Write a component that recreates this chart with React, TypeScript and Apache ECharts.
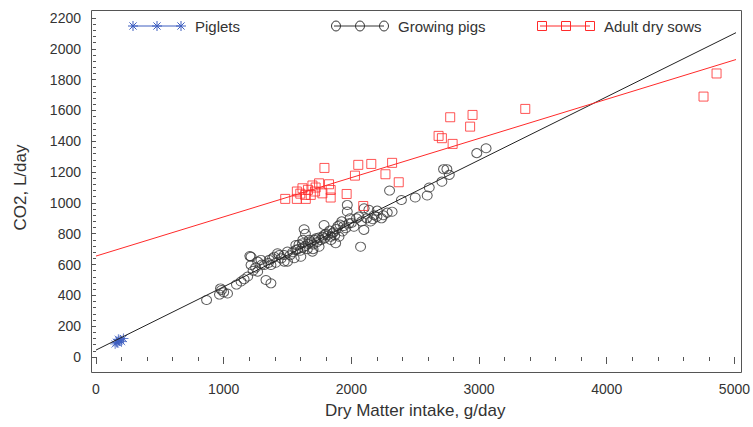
import React, { useEffect, useRef } from "react";
import * as echarts from "echarts";

// ---- data ----
const piglets: number[][] = [
  [150, 85], [160, 95], [170, 92], [180, 105], [190, 110], [200, 100], [215, 120], [175, 115],
];

const growingPigs: number[][] = [
  [866, 370], [967, 405], [983, 435], [1000, 420], [1030, 412], [975, 445],
  [1100, 470], [1136, 490], [1160, 505], [1188, 522], [1214, 597], [1205, 655], [1214, 650],
  [1230, 560], [1250, 580], [1266, 554], [1266, 619], [1292, 630], [1300, 600], [1318, 597],
  [1331, 500], [1370, 478], [1350, 610], [1357, 630], [1370, 597], [1383, 641], [1396, 651],
  [1409, 612], [1422, 673], [1435, 662], [1450, 640], [1474, 662], [1474, 619], [1500, 619],
  [1500, 684], [1520, 660], [1540, 680], [1552, 641], [1565, 695], [1565, 727], [1580, 700],
  [1590, 730], [1600, 690], [1604, 651], [1617, 738], [1620, 710], [1620, 760], [1630, 829],
  [1640, 800], [1640, 720], [1655, 700], [1660, 735], [1669, 760], [1680, 745], [1695, 684],
  [1700, 730], [1700, 700], [1710, 760], [1722, 770], [1730, 745], [1745, 775], [1747, 716],
  [1760, 760], [1775, 780], [1786, 857], [1786, 792], [1790, 770], [1800, 800], [1815, 790],
  [1830, 820], [1840, 780], [1840, 760], [1851, 803], [1860, 810], [1870, 790], [1877, 738],
  [1880, 830], [1895, 850], [1903, 781], [1910, 860], [1925, 880], [1930, 815], [1940, 850],
  [1956, 836], [1968, 987], [1968, 944], [1981, 868], [1990, 900], [2000, 870], [2020, 846],
  [2040, 900], [2059, 911], [2072, 716], [2080, 880], [2098, 825], [2100, 965], [2120, 900],
  [2137, 955], [2150, 880], [2168, 894], [2178, 920], [2200, 910], [2202, 950], [2236, 900],
  [2250, 920], [2281, 937], [2299, 1080], [2319, 943], [2392, 1019], [2500, 1035], [2594, 1048],
  [2610, 1100], [2709, 1138], [2722, 1219], [2748, 1219], [2767, 1182], [2982, 1323], [3055, 1355],
];

const adultDrySows: number[][] = [
  [1482, 1026], [1573, 1074], [1573, 1026], [1600, 1060], [1617, 1095], [1638, 1052],
  [1643, 1026], [1660, 1085], [1682, 1052], [1695, 1113], [1716, 1074], [1720, 1100],
  [1747, 1127], [1773, 1062], [1789, 1227], [1825, 1121], [1838, 1084], [1838, 1035],
  [1963, 1058], [2028, 1177], [2054, 1247], [2093, 980], [2156, 1253], [2267, 1186],
  [2319, 1260], [2371, 1134], [2683, 1435], [2709, 1420], [2774, 1556], [2793, 1383],
  [2930, 1495], [2949, 1571], [3362, 1610], [4758, 1690], [4860, 1840],
];

// fitted lines (end points)
const fitAll: number[][] = [[0, 45], [5030, 2112]];
const fitSows: number[][] = [[0, 655], [5030, 1935]];

const xTitle = "Dry Matter intake, g/day";
const yTitle = "CO2, L/day";
const legendNames = ["Piglets", "Growing pigs", "Adult dry sows"];

const FONT = "'Liberation Sans', Arial, sans-serif";
const STAR_D = "M0,-5L0,5M-5,0L5,0M-3.6,-3.6L3.6,3.6M-3.6,3.6L3.6,-3.6";

export default function App() {
  const ref = useRef<HTMLDivElement>(null);
  useEffect(() => {
    if (!ref.current) return;
    echarts.graphic.registerShape("asterisk", echarts.graphic.extendPath(STAR_D, {}) as any);
    const chart = echarts.init(ref.current, null, { renderer: "svg" });
    const blue = "#3f5fc0";
    const red = "#ff2a2a";
    const dark = "#333333";
    const ly = 26;
    const legendGroup = (x0: number, name: string, kind: string, color: string) => {
      const children: any[] = [
        { type: "line", shape: { x1: x0, y1: ly, x2: x0 + 50, y2: ly }, style: { stroke: color, lineWidth: 1 } },
      ];
      [0, 24, 48].forEach((dx) => {
        const cx = x0 + 2 + dx;
        if (kind === "star") children.push({ type: "asterisk", x: cx, y: ly, style: { stroke: color, fill: "none", lineWidth: 1 } });
        if (kind === "circle") children.push({ type: "ellipse", shape: { cx, cy: ly, rx: 4.5, ry: 5 }, style: { stroke: color, fill: "none", lineWidth: 1 } });
        if (kind === "rect") children.push({ type: "rect", shape: { x: cx - 4.5, y: ly - 4.5, width: 9, height: 9 }, style: { stroke: color, fill: "none", lineWidth: 1 } });
      });
      children.push({ type: "text", x: x0 + 64, y: ly, style: { text: name, fontSize: 15, fontFamily: FONT, fill: dark, verticalAlign: "middle" } });
      return { type: "group", children };
    };
    const axisColor = "#555";
    const plain = (v: number) => String(v);
    const minorX = {
      type: "value", min: 0, max: 5000, interval: 200, offset: 15, position: "bottom",
      axisLine: { show: false }, axisLabel: { show: false }, splitLine: { show: false },
      axisTick: { show: true, length: 4, lineStyle: { color: axisColor } },
    };
    const minorY = {
      type: "value", min: 0, max: 2200, interval: 40, offset: 5, position: "left",
      axisLine: { show: false }, axisLabel: { show: false }, splitLine: { show: false },
      axisTick: { show: true, length: 3, lineStyle: { color: axisColor } },
    };
    chart.setOption({
      animation: false,
      backgroundColor: "#ffffff",
      grid: { left: 96, right: 16, top: 18, bottom: 70 },
      xAxis: [
        {
          type: "value", min: 0, max: 5000, interval: 1000, offset: 15, position: "bottom",
          axisLine: { show: false },
          axisTick: { show: true, length: 7, lineStyle: { color: axisColor } },
          splitLine: { show: false },
          axisLabel: { fontSize: 14, color: dark, fontFamily: FONT, margin: 10, formatter: plain },
          name: xTitle, nameLocation: "middle", nameGap: 30,
          nameTextStyle: { fontSize: 17, color: dark, fontFamily: FONT },
        },
        minorX,
      ],
      yAxis: [
        {
          type: "value", min: 0, max: 2200, interval: 200, offset: 5, position: "left",
          axisLine: { show: false },
          axisTick: { show: true, length: 5, lineStyle: { color: axisColor } },
          splitLine: { show: false },
          axisLabel: { fontSize: 14, color: dark, fontFamily: FONT, margin: 10, formatter: plain },
          name: yTitle, nameLocation: "middle", nameGap: 62, nameRotate: 90,
          nameTextStyle: { fontSize: 17, color: dark, fontFamily: FONT },
        },
        minorY,
      ],
      graphic: [
        { type: "rect", shape: { x: 91.5, y: 10.5, width: 650, height: 362 }, style: { fill: "none", stroke: axisColor, lineWidth: 1 }, z: 10 },
        legendGroup(131, legendNames[0], "star", blue),
        legendGroup(334, legendNames[1], "circle", dark),
        legendGroup(540, legendNames[2], "rect", red),
      ],
      series: [
        { type: "line", data: fitAll, symbol: "none", clip: false, lineStyle: { color: "#222", width: 1 }, silent: true },
        { type: "line", data: fitSows, symbol: "none", clip: false, lineStyle: { color: red, width: 1 }, silent: true },
        {
          name: legendNames[0], type: "scatter", data: piglets, clip: false,
          symbol: "path://" + STAR_D, symbolSize: 10,
          itemStyle: { color: "none", borderColor: blue, borderWidth: 1 },
        },
        {
          name: legendNames[1], type: "scatter", data: growingPigs, clip: false,
          symbol: "circle", symbolSize: [10, 9],
          itemStyle: { color: "transparent", borderColor: dark, borderWidth: 1 },
        },
        {
          name: legendNames[2], type: "scatter", data: adultDrySows, clip: false,
          symbol: "rect", symbolSize: 9,
          itemStyle: { color: "transparent", borderColor: red, borderWidth: 1 },
        },
      ],
    });
    return () => chart.dispose();
  }, []);
  return <div ref={ref} style={{ position: "fixed", left: 0, top: 0, width: 753, height: 427 }} />;
}
